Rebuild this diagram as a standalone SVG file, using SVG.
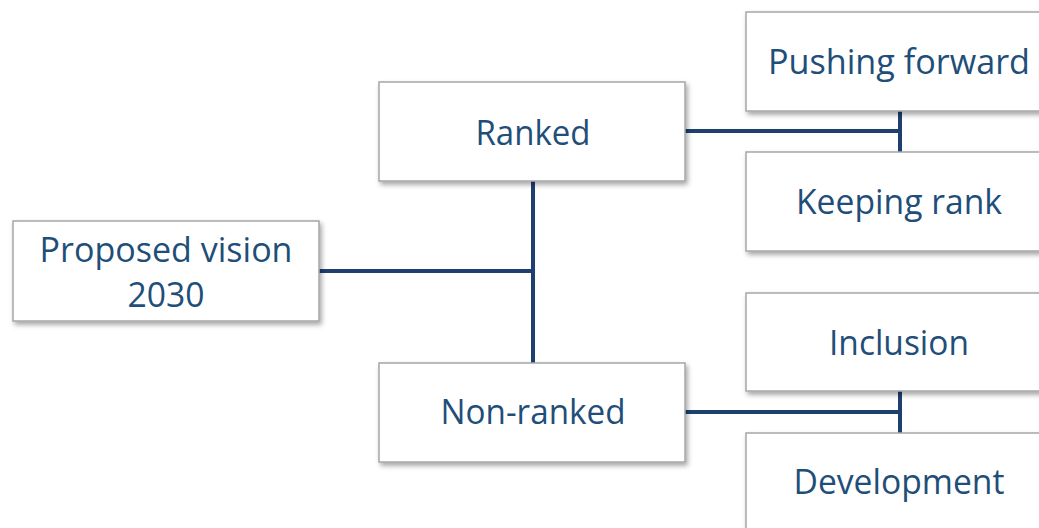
<svg xmlns="http://www.w3.org/2000/svg" width="1039" height="528" viewBox="0 0 1039 528">
<defs>
<filter id="sh" x="-10%" y="-20%" width="130%" height="150%">
<feDropShadow dx="2" dy="3" stdDeviation="2.5" flood-color="#000" flood-opacity="0.35"/>
</filter>
<style>
.box{fill:#fff;stroke:#a6a6a6;stroke-width:1.5;filter:url(#sh)}
.lbl{font-family:"Open Sans","Noto Sans",sans-serif;font-size:34px;fill:#1f4e79;text-anchor:middle}
.con{stroke:#1f3f6e;stroke-width:4;fill:none}
</style>
</defs>
<rect width="1039" height="528" fill="#fff"/>
<g id="connectors">
<path class="con" d="M319 271H533M533 181V363M685 131H900M900 111V152M685 412H900M900 391V433"/>
</g>
<g id="proposed">
<rect class="box" x="13" y="221" width="306" height="100"/>
<text class="lbl" x="166" y="262" textLength="253" lengthAdjust="spacingAndGlyphs">Proposed vision</text>
<text class="lbl" x="166" y="307" textLength="77" lengthAdjust="spacingAndGlyphs">2030</text>
</g>
<g id="ranked">
<rect class="box" x="379" y="82" width="306" height="99"/>
<text class="lbl" x="533" y="145" textLength="115" lengthAdjust="spacingAndGlyphs">Ranked</text>
</g>
<g id="nonranked">
<rect class="box" x="379" y="363" width="306" height="99"/>
<text class="lbl" x="533" y="424" textLength="185" lengthAdjust="spacingAndGlyphs">Non-ranked</text>
</g>
<g id="pushing">
<rect class="box" x="746" y="12" width="306" height="99"/>
<text class="lbl" x="899" y="74" textLength="262" lengthAdjust="spacingAndGlyphs">Pushing forward</text>
</g>
<g id="keeping">
<rect class="box" x="746" y="152" width="306" height="99"/>
<text class="lbl" x="899" y="214" textLength="206" lengthAdjust="spacingAndGlyphs">Keeping rank</text>
</g>
<g id="inclusion">
<rect class="box" x="746" y="293" width="306" height="98"/>
<text class="lbl" x="899" y="355" textLength="140" lengthAdjust="spacingAndGlyphs">Inclusion</text>
</g>
<g id="development">
<rect class="box" x="746" y="433" width="306" height="99"/>
<text class="lbl" x="899" y="494" textLength="211" lengthAdjust="spacingAndGlyphs">Development</text>
</g>
</svg>
